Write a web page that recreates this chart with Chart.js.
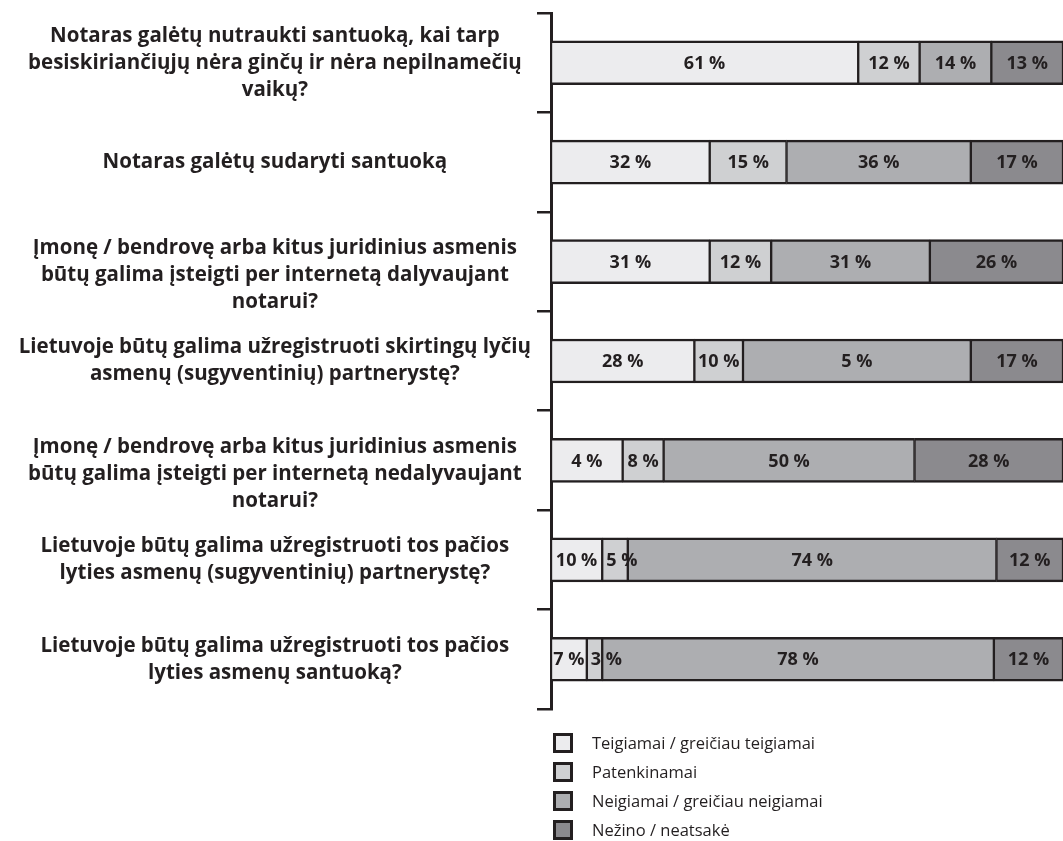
<!DOCTYPE html>
<html lang="lt">
<head>
<meta charset="utf-8">
<title>Notaro funkcijos</title>
<script src="https://cdn.jsdelivr.net/npm/chart.js@4/dist/chart.umd.min.js"></script>
<style>
  body { margin: 0; background: #fff; }
  #wrap { position: relative; width: 1063px; height: 841px; overflow: hidden; }
  #legend { position: absolute; left: 553px; top: 728px; font-family: "Open Sans", sans-serif; font-size: 16.5px; color: #231f20; }
  .item { display: flex; align-items: center; height: 29px; }
  .box { width: 14px; height: 14px; border: 3px solid #231f20; margin-right: 19px; }
</style>
</head>
<body>
<div id="wrap">
  <canvas id="chart" width="1063" height="841"></canvas>
  <div id="legend"></div>
</div>
<script>
// the empty first line pushes the two "Įmonę" labels down a little, as in the original
const categories = [
  ["Notaras galėtų nutraukti santuoką, kai tarp", "besiskiriančiųjų nėra ginčų ir nėra nepilnamečių", "vaikų?"],
  "Notaras galėtų sudaryti santuoką",
  ["", "Įmonę / bendrovę arba kitus juridinius asmenis", "būtų galima įsteigti per internetą dalyvaujant", "notarui?"],
  ["Lietuvoje būtų galima užregistruoti skirtingų lyčių", "asmenų (sugyventinių) partnerystę?"],
  ["", "Įmonę / bendrovę arba kitus juridinius asmenis", "būtų galima įsteigti per internetą nedalyvaujant", "notarui?"],
  ["Lietuvoje būtų galima užregistruoti tos pačios", "lyties asmenų (sugyventinių) partnerystę?"],
  ["Lietuvoje būtų galima užregistruoti tos pačios", "lyties asmenų santuoką?"],
];

const seriesNames = [
  "Teigiamai / greičiau teigiamai",
  "Patenkinamai",
  "Neigiamai / greičiau neigiamai",
  "Nežino / neatsakė",
];

// bar lengths
const positive = [60, 31, 31, 28, 14, 10, 7];
const neutral = [12, 15, 12, 9.5, 8, 5, 3];
const negative = [14, 36, 31, 44.5, 49, 72, 76.5];
const unknown = [14, 18, 26, 18, 29, 13, 13.5];

// printed labels (as written on the original)
const positiveText = ["61 %", "32 %", "31 %", "28 %", "4 %", "10 %", "7 %"];
const neutralText = ["12 %", "15 %", "12 %", "10 %", "8 %", "5 %", "3 %"];
const negativeText = ["14 %", "36 %", "31 %", "5 %", "50 %", "74 %", "78 %"];
const unknownText = ["13 %", "17 %", "26 %", "17 %", "28 %", "12 %", "12 %"];

const colors = ["#ececee", "#cfd0d2", "#adaeb1", "#8b8a8e"];
const ink = "#231f20";

const values = [positive, neutral, negative, unknown];
const texts = [positiveText, neutralText, negativeText, unknownText];

const segmentLabels = {
  id: "segmentLabels",
  afterDatasetsDraw(chart) {
    const ctx = chart.ctx;
    ctx.save();
    ctx.font = "bold 18px 'Open Sans', sans-serif";
    ctx.fillStyle = ink;
    ctx.textBaseline = "middle";
    chart.data.datasets.forEach((ds, i) => {
      chart.getDatasetMeta(i).data.forEach((bar, j) => {
        const { x, base, y } = bar.getProps(["x", "base", "y"], true);
        const text = ds.texts[j];
        const w = ctx.measureText(text).width;
        if (w > x - base - 2) {
          // too narrow: start the text just inside the segment
          ctx.textAlign = "left";
          ctx.fillText(text, base + 4, y + 1);
        } else {
          ctx.textAlign = "center";
          ctx.fillText(text, (x + base) / 2, y + 1);
        }
      });
    });
    ctx.restore();
  },
};

const chart = new Chart(document.getElementById("chart"), {
  type: "bar",
  data: {
    labels: categories,
    datasets: values.map((data, i) => ({
      label: seriesNames[i],
      data,
      texts: texts[i],
      backgroundColor: colors[i],
      borderColor: ink,
      borderWidth: { top: 2.5, bottom: 2.5, left: 1.5, right: 1.5 },
      borderSkipped: false,
      barThickness: 44,
      clip: 0,
    })),
  },
  options: {
    indexAxis: "y",
    responsive: false,
    animation: false,
    layout: { padding: { top: 13, bottom: 132, left: 10, right: 0 } },
    plugins: {
      legend: { display: false },
      tooltip: { enabled: false },
    },
    scales: {
      x: {
        stacked: true,
        display: false,
        min: 0,
        max: 100,
      },
      y: {
        stacked: true,
        afterFit: (scale) => {
          scale.width = 541;
          scale.paddingTop = 0;
          scale.paddingBottom = 0;
        },
        border: { display: true, color: ink, width: 3 },
        grid: {
          offset: true,
          drawOnChartArea: false,
          color: ink,
          lineWidth: 2.5,
          tickLength: 14,
        },
        ticks: {
          autoSkip: false,
          crossAlign: "center",
          padding: 6,
          color: ink,
          font: { family: "'Open Sans', sans-serif", size: 20.5, weight: "bold", lineHeight: "27px" },
        },
      },
    },
  },
  plugins: [segmentLabels],
});

const legendEl = document.getElementById("legend");
seriesNames.forEach((name, i) => {
  const item = document.createElement("div");
  item.className = "item";
  const box = document.createElement("span");
  box.className = "box";
  box.style.background = colors[i];
  const label = document.createElement("span");
  label.textContent = name;
  item.appendChild(box);
  item.appendChild(label);
  legendEl.appendChild(item);
});
</script>
</body>
</html>
